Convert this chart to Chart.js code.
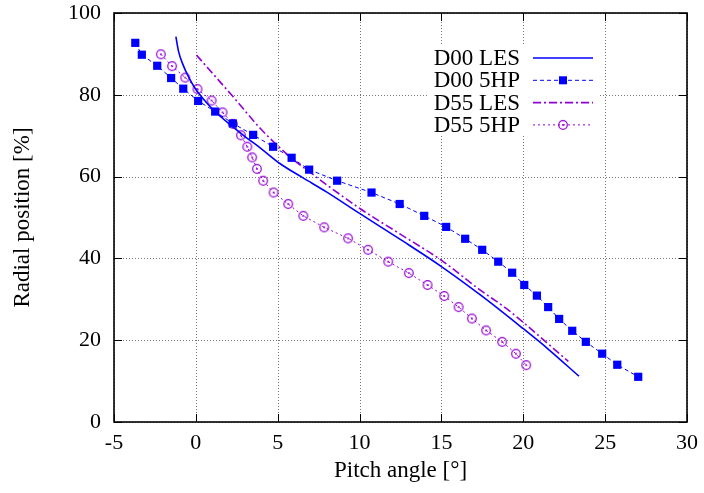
<!DOCTYPE html>
<html>
<head>
<meta charset="utf-8">
<script src="https://cdn.jsdelivr.net/npm/chart.js@4"></script>
<style>
  html, body { margin: 0; padding: 0; background: #fff; }
  #wrap { width: 704px; height: 493px; }
</style>
</head>
<body>
<div id="wrap"><canvas id="pitchChart"></canvas></div>
<script>
// x / y ticks
const xTicks = [-5, 0, 5, 10, 15, 20, 25, 30];
const yTicks = [0, 20, 40, 60, 80, 100];

const seriesNames = ['D00 LES', 'D00 5HP', 'D55 LES', 'D55 5HP'];

// D00 LES (smooth curve)
const d00lesX = [-1.22, -1.05, -0.8, -0.4, 0.0, 0.5, 1.0, 2.0, 3.0, 4.0, 5.13, 6.5, 8.0, 10.0, 12.46, 15.0, 17.5, 20.0, 21.5, 23.4];
const d00lesY = [94.2, 90.5, 87.5, 84.0, 81.3, 78.8, 76.6, 73.0, 69.8, 66.8, 63.2, 59.8, 56.2, 51.0, 44.7, 38.0, 30.7, 22.8, 17.9, 11.2];

// D00 5HP (squares)
const d005hpX = [-3.7, -3.3, -2.36, -1.51, -0.77, 0.14, 1.18, 2.26, 3.5, 4.72, 5.85, 6.92, 8.63, 10.73, 12.45, 13.95, 15.29, 16.45, 17.49, 18.47, 19.32, 20.06, 20.83, 21.52, 22.19, 22.99, 23.82, 24.82, 25.74, 27.02];
const d005hpY = [92.7, 89.8, 87.1, 84.1, 81.5, 78.5, 75.9, 73.0, 70.2, 67.3, 64.6, 61.7, 59.0, 56.1, 53.3, 50.4, 47.7, 44.8, 42.1, 39.2, 36.5, 33.5, 30.9, 28.1, 25.2, 22.3, 19.6, 16.7, 14.0, 11.05];

// D55 LES (dash-dot curve)
const d55lesX = [0.04, 2.28, 4.0, 5.82, 6.92, 10.02, 12.46, 15.01, 17.35, 18.98, 20.1, 22.75];
const d55lesY = [89.7, 79.5, 71.5, 64.6, 61.2, 52.2, 46.0, 39.5, 32.3, 27.7, 24.0, 14.8];

// D55 5HP (open circles)
const d555hpX = [-2.14, -1.45, -0.65, 0.1, 0.96, 1.63, 2.26, 2.75, 3.14, 3.44, 3.73, 4.11, 4.75, 5.64, 6.56, 7.84, 9.3, 10.52, 11.75, 13.01, 14.15, 15.17, 16.05, 16.86, 17.73, 18.71, 19.55, 20.18];
const d555hpY = [89.9, 87.0, 84.2, 81.4, 78.6, 75.7, 72.9, 70.1, 67.3, 64.7, 61.9, 59.0, 56.1, 53.3, 50.4, 47.6, 44.9, 42.1, 39.2, 36.4, 33.5, 30.8, 28.1, 25.3, 22.4, 19.6, 16.7, 13.9];

const BLUE = '#0000ff';
const VIOLET = '#9400d3';
const FONT = '"Liberation Serif", "DejaVu Serif", serif';

function pts(xs, ys) {
    return xs.map((x, i) => ({ x: x, y: ys[i] }));
}

// circle with a dot in the middle, like gnuplot's point
const ring = document.createElement('canvas');
ring.width = 12; ring.height = 12;
(function () {
    const c = ring.getContext('2d');
    c.strokeStyle = VIOLET;
    c.lineWidth = 1.2;
    c.beginPath(); c.arc(6, 6, 4.3, 0, Math.PI * 2); c.stroke();
    c.fillStyle = VIOLET;
    c.beginPath(); c.arc(6, 6, 1, 0, Math.PI * 2); c.fill();
})();

const styles = [
    { color: BLUE, dash: [], width: 1.6, marker: null },
    { color: BLUE, dash: [4, 3], width: 1, marker: 'square' },
    { color: VIOLET, dash: [8, 3, 2, 3], width: 1.6, marker: null },
    { color: VIOLET, dash: [2, 3], width: 1, marker: 'ring' }
];

// dotted grid, then blank box behind the key
const gridPlugin = {
    id: 'dotgrid',
    beforeDatasetsDraw(chart) {
        const ctx = chart.ctx;
        const a = chart.chartArea;
        const sx = chart.scales.x, sy = chart.scales.y;
        ctx.save();
        ctx.strokeStyle = '#777';
        ctx.lineWidth = 1;
        ctx.setLineDash([1, 2]);
        ctx.beginPath();
        xTicks.forEach(v => {
            const px = Math.round(sx.getPixelForValue(v)) + 0.5;
            ctx.moveTo(px, a.top); ctx.lineTo(px, a.bottom);
        });
        yTicks.forEach(v => {
            const py = Math.round(sy.getPixelForValue(v)) + 0.5;
            ctx.moveTo(a.left, py); ctx.lineTo(a.right, py);
        });
        ctx.stroke();
        ctx.setLineDash([]);
        ctx.fillStyle = '#fff';
        ctx.fillRect(429, 45, 171, 91);
        ctx.restore();
    }
};

// key drawn inside the plot, text right aligned, sample on the right
const keyPlugin = {
    id: 'key',
    afterDatasetsDraw(chart) {
        const ctx = chart.ctx;
        ctx.save();
        ctx.font = '23px ' + FONT;
        ctx.textAlign = 'right';
        ctx.textBaseline = 'middle';
        seriesNames.forEach((name, i) => {
            const y = 58 + i * 22.3;
            const s = styles[i];
            ctx.fillStyle = '#000';
            ctx.fillText(name, 520, y + 1);
            ctx.strokeStyle = s.color;
            ctx.lineWidth = s.width;
            ctx.setLineDash(s.dash);
            ctx.beginPath(); ctx.moveTo(533, y); ctx.lineTo(593, y); ctx.stroke();
            ctx.setLineDash([]);
            if (s.marker === 'square') {
                ctx.fillStyle = BLUE;
                ctx.fillRect(563 - 4, y - 4, 8, 8);
            } else if (s.marker === 'ring') {
                ctx.drawImage(ring, 563 - 6, y - 6);
            }
        });
        ctx.restore();
    }
};

// border box and inward ticks on all four sides
const framePlugin = {
    id: 'frame',
    afterDraw(chart) {
        const ctx = chart.ctx;
        const a = chart.chartArea;
        const sx = chart.scales.x, sy = chart.scales.y;
        ctx.save();
        ctx.strokeStyle = '#000';
        ctx.lineWidth = 1;
        ctx.beginPath();
        xTicks.forEach(v => {
            const px = Math.round(sx.getPixelForValue(v)) + 0.5;
            ctx.moveTo(px, a.bottom); ctx.lineTo(px, a.bottom - 8);
            ctx.moveTo(px, a.top); ctx.lineTo(px, a.top + 8);
        });
        yTicks.forEach(v => {
            const py = Math.round(sy.getPixelForValue(v)) + 0.5;
            ctx.moveTo(a.left, py); ctx.lineTo(a.left + 8, py);
            ctx.moveTo(a.right, py); ctx.lineTo(a.right - 8, py);
        });
        ctx.stroke();
        ctx.lineWidth = 1.6;
        ctx.strokeRect(a.left, a.top, a.right - a.left, a.bottom - a.top);
        ctx.restore();
    }
};

new Chart(document.getElementById('pitchChart'), {
    type: 'scatter',
    data: {
        datasets: [{
            label: seriesNames[0],
            data: pts(d00lesX, d00lesY),
            showLine: true,
            borderColor: BLUE,
            borderWidth: 1.6,
            pointRadius: 0,
            cubicInterpolationMode: 'monotone'
        }, {
            label: seriesNames[1],
            data: pts(d005hpX, d005hpY),
            showLine: true,
            borderColor: BLUE,
            borderWidth: 1,
            borderDash: [4, 3],
            pointStyle: 'rect',
            pointRadius: 5.8,
            pointBackgroundColor: BLUE,
            pointBorderColor: BLUE,
            pointBorderWidth: 0
        }, {
            label: seriesNames[2],
            data: pts(d55lesX, d55lesY),
            showLine: true,
            borderColor: VIOLET,
            borderWidth: 1.6,
            borderDash: [8, 3, 2, 3],
            pointRadius: 0,
            cubicInterpolationMode: 'monotone'
        }, {
            label: seriesNames[3],
            data: pts(d555hpX, d555hpY),
            showLine: true,
            borderColor: VIOLET,
            borderWidth: 1,
            borderDash: [2, 3],
            pointStyle: ring,
            pointRadius: 5
        }]
    },
    options: {
        responsive: true,
        maintainAspectRatio: false,
        animation: false,
        events: [],
        layout: { padding: { top: 13, right: 17, left: 0, bottom: 0 } },
        plugins: {
            legend: { display: false },
            tooltip: { enabled: false }
        },
        scales: {
            x: {
                type: 'linear',
                min: -5,
                max: 30,
                afterFit: s => { s.height = 71; s.paddingLeft = 0; s.paddingRight = 0; },
                afterBuildTicks: s => { s.ticks = xTicks.map(v => ({ value: v })); },
                ticks: { color: '#000', font: { family: FONT, size: 22 }, padding: 8 },
                grid: { display: false, drawTicks: false },
                border: { display: false },
                title: {
                    display: true,
                    text: 'Pitch angle [°]',
                    color: '#000',
                    font: { family: FONT, size: 23 },
                    padding: { top: 2, bottom: 8 }
                }
            },
            y: {
                min: 0,
                max: 100,
                afterFit: s => { s.width = 114; s.paddingTop = 0; s.paddingBottom = 0; },
                afterBuildTicks: s => { s.ticks = yTicks.map(v => ({ value: v })); },
                ticks: { color: '#000', font: { family: FONT, size: 22 }, padding: 13 },
                grid: { display: false, drawTicks: false },
                border: { display: false },
                title: {
                    display: true,
                    text: 'Radial position [%]',
                    color: '#000',
                    font: { family: FONT, size: 23 },
                    padding: { top: 9, bottom: 4 }
                }
            }
        }
    },
    plugins: [gridPlugin, keyPlugin, framePlugin]
});
</script>
</body>
</html>
